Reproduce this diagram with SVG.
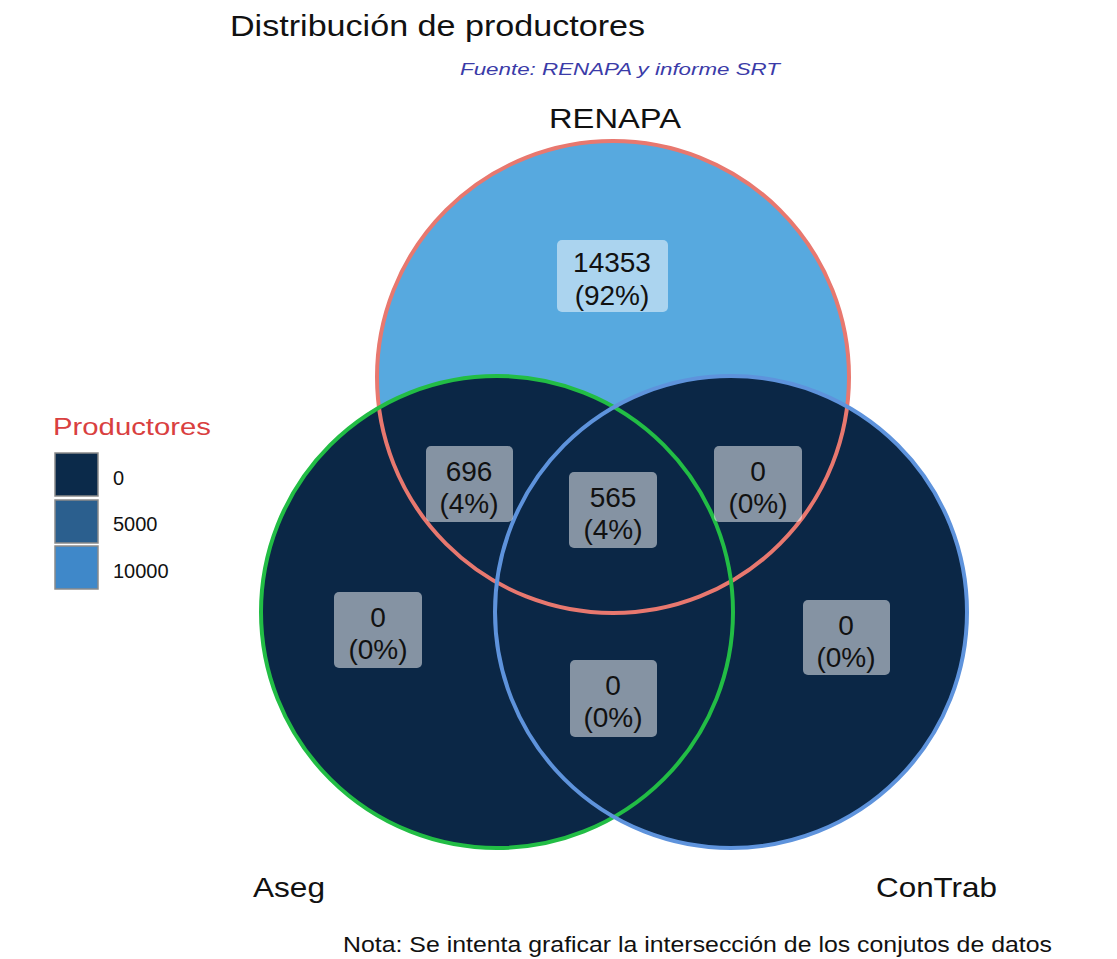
<svg xmlns="http://www.w3.org/2000/svg" width="1117" height="959" viewBox="0 0 1117 959">
<style>
text{font-family:"Liberation Sans",Arial,sans-serif;fill:#111}
.ttl{font-size:30px}
.src{font-size:17px;font-style:italic;fill:#3b3ba8}
.set{font-size:28px}
.cnt{font-size:28px;text-anchor:middle}
.lgt{font-size:24px;fill:#d9403f}
.lgl{font-size:20px}
.note{font-size:22px}
.box{fill:#ffffff;fill-opacity:0.5}
.edge{fill:none;stroke-width:4}
.sw{stroke:#8a8a8a;stroke-width:1.5}
</style>
<rect width="1117" height="959" fill="#ffffff"/>
<text class="ttl" x="230" y="36" textLength="415" lengthAdjust="spacingAndGlyphs">Distribución de productores</text>
<text class="src" x="460" y="75" textLength="320" lengthAdjust="spacingAndGlyphs">Fuente: RENAPA y informe SRT</text>

<g id="fills">
<circle cx="613" cy="377" r="236" fill="#57a9df"/>
<circle cx="497" cy="612" r="236" fill="#0b2746"/>
<circle cx="731" cy="612" r="236" fill="#0b2746"/>
</g>

<g id="node-renapa">
<circle class="edge" cx="613" cy="377" r="236" stroke="#e8786f"/>
<text class="set" x="549" y="128" textLength="132" lengthAdjust="spacingAndGlyphs">RENAPA</text>
</g>
<g id="node-aseg">
<circle class="edge" cx="497" cy="612" r="236" stroke="#22bd45"/>
<text class="set" x="253" y="897" textLength="72" lengthAdjust="spacingAndGlyphs">Aseg</text>
</g>
<g id="node-contrab">
<circle class="edge" cx="731" cy="612" r="236" stroke="#5e93dc"/>
<text class="set" x="876" y="897" textLength="121" lengthAdjust="spacingAndGlyphs">ConTrab</text>
</g>

<g id="connectors"></g>

<g id="region-renapa">
<rect class="box" x="557" y="240" width="111" height="72" rx="5"/>
<text class="cnt" x="612" y="272">14353</text>
<text class="cnt" x="612" y="305">(92%)</text>
</g>
<g id="region-renapa-aseg">
<rect class="box" x="426" y="446" width="87" height="76" rx="5"/>
<text class="cnt" x="469" y="481">696</text>
<text class="cnt" x="469" y="513">(4%)</text>
</g>
<g id="region-all">
<rect class="box" x="569" y="472" width="88" height="76" rx="5"/>
<text class="cnt" x="613" y="507">565</text>
<text class="cnt" x="613" y="539">(4%)</text>
</g>
<g id="region-renapa-contrab">
<rect class="box" x="714" y="446" width="88" height="76" rx="5"/>
<text class="cnt" x="758" y="481">0</text>
<text class="cnt" x="758" y="513">(0%)</text>
</g>
<g id="region-aseg">
<rect class="box" x="334" y="592" width="88" height="76" rx="5"/>
<text class="cnt" x="378" y="627">0</text>
<text class="cnt" x="378" y="659">(0%)</text>
</g>
<g id="region-aseg-contrab">
<rect class="box" x="570" y="660" width="87" height="77" rx="5"/>
<text class="cnt" x="613" y="695">0</text>
<text class="cnt" x="613" y="727">(0%)</text>
</g>
<g id="region-contrab">
<rect class="box" x="803" y="600" width="87" height="75" rx="5"/>
<text class="cnt" x="846" y="635">0</text>
<text class="cnt" x="846" y="667">(0%)</text>
</g>

<g id="legend">
<text class="lgt" x="53" y="435" textLength="158" lengthAdjust="spacingAndGlyphs">Productores</text>
<rect class="sw" x="55" y="453" width="43" height="43" fill="#0b2a4a"/>
<rect class="sw" x="55" y="500" width="43" height="43" fill="#2b5f8e"/>
<rect class="sw" x="55" y="546" width="43" height="43" fill="#3f88c9"/>
<text class="lgl" x="113" y="485">0</text>
<text class="lgl" x="113" y="531">5000</text>
<text class="lgl" x="113" y="578">10000</text>
</g>

<text class="note" x="343" y="952" textLength="709" lengthAdjust="spacingAndGlyphs">Nota: Se intenta graficar la intersección de los conjutos de datos</text>
</svg>
